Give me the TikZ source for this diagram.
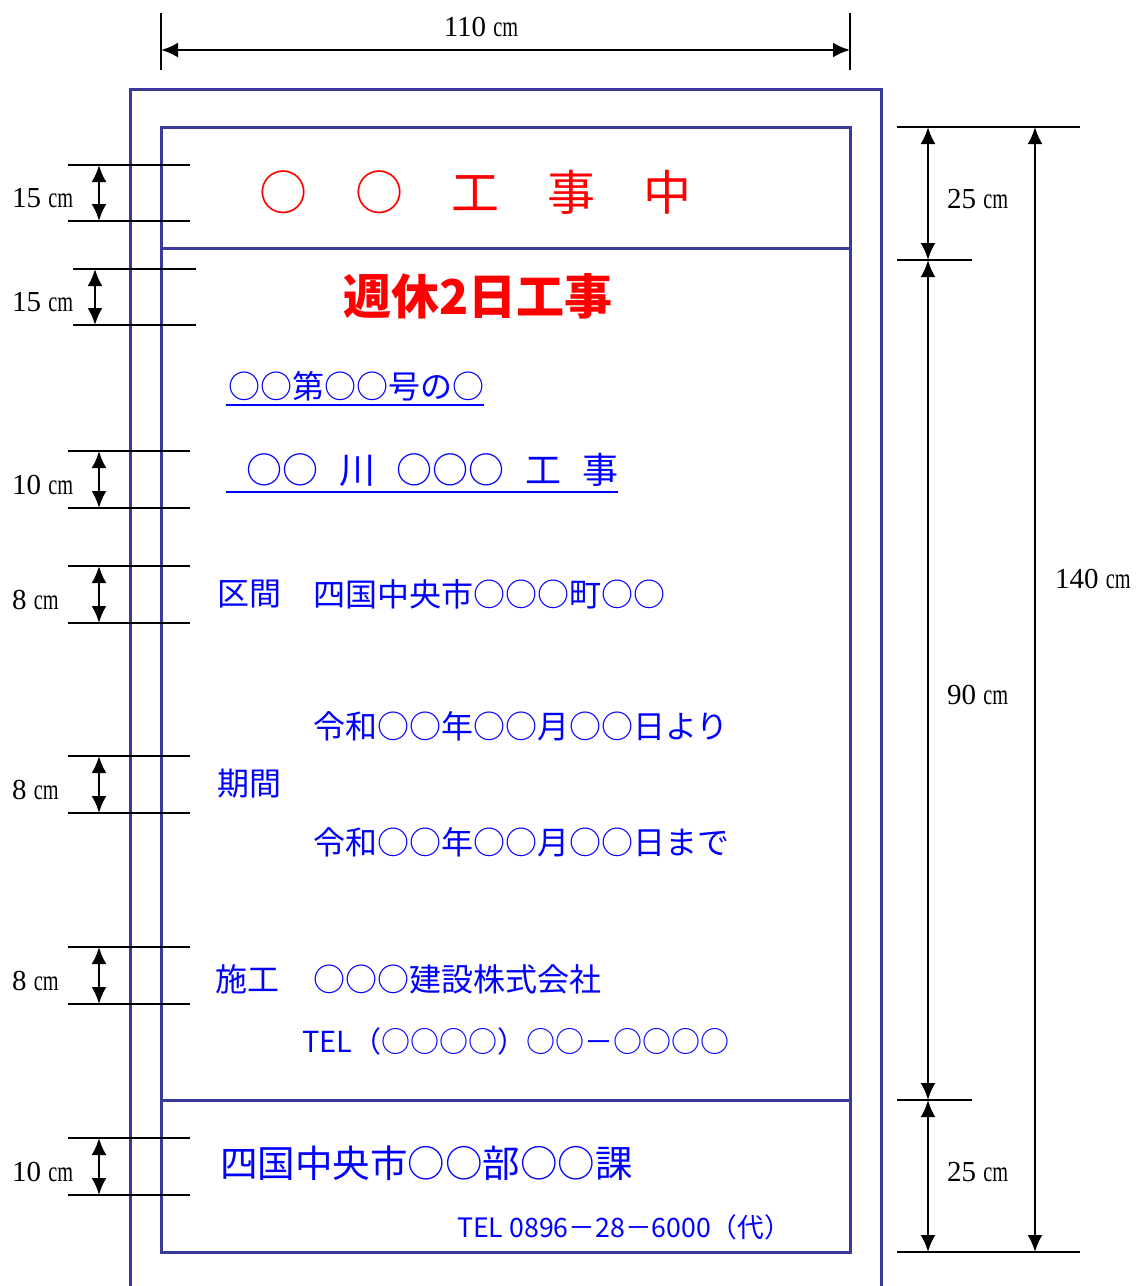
\documentclass[tikz,border=0pt]{standalone}
\usepackage{fontspec}
\setmainfont{Liberation Serif}
\newfontfamily\jpfont{Noto Sans CJK JP}
\usetikzlibrary{arrows.meta,positioning}
\definecolor{frameblue}{RGB}{58,58,156}
\definecolor{textblue}{RGB}{0,0,255}
\definecolor{textred}{RGB}{255,0,0}
\newcommand{\cmlabel}[1]{#1 \scalebox{0.7}[1]{cm}}
\newcommand{\jpsize}[1]{\jpfont\fontsize{#1}{#1}\selectfont}

\begin{document}
\begin{tikzpicture}[x=1pt, y=-1pt, >={Latex[length=17pt,width=15pt]}]
        % Styles
        \tikzstyle{frame} = [draw=frameblue, line width=3pt]
        \tikzstyle{dimline} = [draw, line width=2.4pt]
        \tikzstyle{dimarrow} = [draw, <->, line width=2.4pt]
        \tikzstyle{dimtext} = [inner sep=0pt, anchor=west, font=\fontsize{29}{29}\selectfont]
        \tikzstyle{bluetext} = [inner sep=0pt, anchor=west, text=textblue]
        \tikzstyle{redtext} = [inner sep=0pt, text=textred]
        \tikzstyle{underline} = [draw=textblue, line width=2.5pt]

        \useasboundingbox (0,0) rectangle (1137,1286);

        % Sign board
        \draw [frame] (130,1290) -- (130,89) -- (881,89) -- (881,1290);
        \coordinate (innerNW) at (161,127);
        \coordinate (innerSE) at (850,1252);
        \draw [frame] (innerNW) rectangle (innerSE);
        \draw [frame] (161,248) -- (850,248);
        \draw [frame] (161,1100) -- (850,1100);

        % Width
        \draw [dimline] (161,13) -- (161,70) (850,13) -- (850,70);
        \coordinate (wL) at (161,50);
        \coordinate (wR) at (850,50);
        \path [dimarrow] (wL) -- (wR);
        \node [inner sep=0pt, font=\fontsize{29}{29}\selectfont] (width) at (481,27) {\cmlabel{110}};

        % Letter heights
        \foreach \ytop/\ybot/\xa/\xb/\xarr/\lab [count=\i] in {165/221/68/190/99/15, 269/325/73/196/95/15,
            451/508/68/190/99/10, 566/623/68/190/99/8, 756/813/68/190/99/8, 947/1004/68/190/99/8, 1138/1195/68/190/99/10} {
            \draw [dimline] (\xa,\ytop) -- (\xb,\ytop) (\xa,\ybot) -- (\xb,\ybot);
            \coordinate (lt\i) at (\xarr,\ytop);
            \coordinate (lb\i) at (\xarr,\ybot);
            \path [dimarrow] (lt\i) -- (lb\i);
            \node [dimtext] (ll\i) at (12,{(\ytop+\ybot)/2+5}) {\cmlabel{\lab}};
        }

        % Heights
        \draw [dimline] (897,127) -- (1080,127) (897,260) -- (972,260);
        \draw [dimline] (897,1100) -- (972,1100) (897,1252) -- (1080,1252);
        \coordinate (h1) at (928,127);
        \coordinate (h2) at (928,260);
        \coordinate (h3) at (928,1100);
        \coordinate (h4) at (928,1252);
        \coordinate (tTop) at (1035,127);
        \coordinate (tBot) at (1035,1252);
        \path [dimarrow] (h1) -- (h2);
        \path [dimarrow] (h2) -- (h3);
        \path [dimarrow] (h3) -- (h4);
        \path [dimarrow] (tTop) -- (tBot);
        \node [dimtext] (top) at (947,199) {\cmlabel{25}};
        \node [dimtext] (middle) at (947,695) {\cmlabel{90}};
        \node [dimtext] (bottom) at (947,1172) {\cmlabel{25}};
        \node [dimtext] (total) at (1055,579) {\cmlabel{140}};

        % Texts
        \node [redtext, font={\jpsize{48}}] (title) at (475,192) {○　○　工　事　中};
        \node [redtext, font={\jpsize{48}\bfseries}] (kyujitsu) at (478,296) {週休2日工事};

        \node [bluetext, font={\jpsize{32}}] (rosen) at (228,386) {○○第○○号の○};
        \path [underline] ([xshift=-2pt,yshift=-4pt]rosen.south west) -- ([yshift=-4pt]rosen.south east);
        \node [bluetext, font={\jpsize{36}}] (koji) at (246,470) {○○\hspace{21pt}川\hspace{21pt}○○○\hspace{21pt}工\hspace{21pt}事};
        \path [underline] ([xshift=-20pt,yshift=-5pt]koji.south west) -- ([yshift=-5pt]koji.south east);

        \node [bluetext, font={\jpsize{32}}] (kukan) at (217,594) {区間};
        \node [bluetext, font={\jpsize{32}}] (kukanval) at (313,594) {四国中央市○○○町○○};
        \node [bluetext, font={\jpsize{32}}] (kikan) at (217,784) {期間};
        \node [bluetext, font={\jpsize{32}}] (kikanfrom) at (313,726) {令和○○年○○月○○日より};
        \node [bluetext, font={\jpsize{32}}] (kikanto) at (313,842) {令和○○年○○月○○日まで};
        \node [bluetext, font={\jpsize{32}}] (seko) at (215,979) {施工};
        \node [bluetext, font={\jpsize{32}}] (sekoval) at (313,979) {○○○建設株式会社};
        \node [bluetext, font={\jpsize{29}}] (sekotel) at (302,1041) {TEL（○○○○）○○－○○○○};

        \node [bluetext, font={\jpsize{37.5}}] (ka) at (220,1163) {四国中央市○○部○○課};
        \node [bluetext, font={\jpsize{26.7}}] (katel) at (457,1227) {TEL 0896－28－6000（代）};

    \end{tikzpicture}
\end{document}
